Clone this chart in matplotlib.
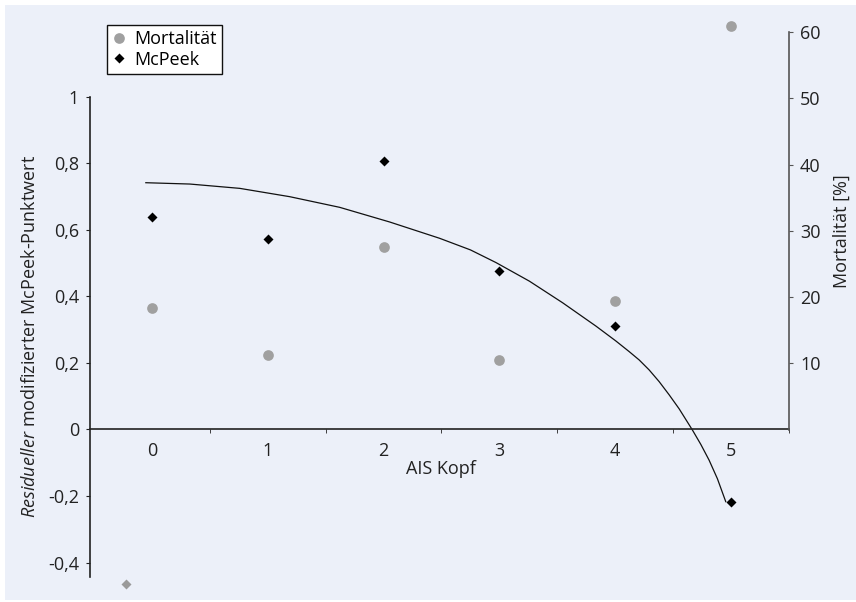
import matplotlib
matplotlib.use('Agg')
import matplotlib.pyplot as plt
from matplotlib.patches import Rectangle
from matplotlib.lines import Line2D

plt.rcParams['font.family'] = ['Open Sans', 'DejaVu Sans']
plt.rcParams['mathtext.fontset'] = 'custom'
plt.rcParams['mathtext.rm'] = 'Open Sans'
plt.rcParams['mathtext.it'] = 'Open Sans:italic'

# data
ais = [0, 1, 2, 3, 4, 5]
ais_labels = ['0', '1', '2', '3', '4', '5']
mcpeek = [0.64, 0.572, 0.807, 0.477, 0.312, -0.218]
mortality = [18.4, 11.2, 27.6, 10.5, 19.4, 61.0]

# stray grey marker bottom left
extra_x = [-0.224]
extra_y = [-0.465]

# trend curve
curve_x = [-0.052, 0.328, 0.759, 1.19, 1.621, 2.052, 2.483, 2.75, 2.97,
           3.259, 3.546, 3.833, 4.006, 4.121, 4.207, 4.293, 4.379, 4.466,
           4.552, 4.667, 4.739, 4.81, 4.882, 4.954]
curve_y = [0.742, 0.738, 0.725, 0.700, 0.668, 0.624, 0.575, 0.540, 0.502,
           0.446, 0.381, 0.311, 0.266, 0.234, 0.209, 0.179, 0.144, 0.104,
           0.062, -0.002, -0.045, -0.092, -0.148, -0.217]

left_ticks = [-0.4, -0.2, 0, 0.2, 0.4, 0.6, 0.8, 1]
left_labels = ['-0,4', '-0,2', '0', '0,2', '0,4', '0,6', '0,8', '1']
right_ticks = [10, 20, 30, 40, 50, 60]

FS = 13
W, H = 856, 602
fig = plt.figure(figsize=(W / 100, H / 100), dpi=100)
fig.patch.set_facecolor('white')
fig.patches.append(Rectangle((5 / W, 2 / H), 851 / W, 595 / H,
                             transform=fig.transFigure, facecolor='#ecf0f9',
                             edgecolor='none', zorder=-1))

ax = fig.add_axes([90 / W, 12 / H, 699 / W, 565 / H])
ax.patch.set_visible(False)
ax.set_xlim(-0.534, 5.491)
ax.set_ylim(-0.4826, 1.2162)

ax2 = ax.twinx()
ax2.patch.set_visible(False)
ax2.set_ylim(-24.24, 61.1)

# spines
for s in ['top', 'right']:
    ax.spines[s].set_visible(False)
for s in ['top', 'bottom', 'left']:
    ax2.spines[s].set_visible(False)
ax.spines['bottom'].set_position(('data', 0))
ax.spines['bottom'].set_color('#222222')
ax.spines['left'].set_color('#222222')
ax.spines['left'].set_bounds(-0.445, 1)
ax2.spines['right'].set_bounds(0, 60)
ax2.spines['right'].set_color('#555555')
for sp in [ax.spines['bottom'], ax.spines['left'], ax2.spines['right']]:
    sp.set_linewidth(1.2)

# ticks
ax.set_xticks(ais)
ax.set_xticklabels(ais_labels)
ax.set_xticks([0.5, 1.5, 2.5, 3.5, 4.5, 5.5], minor=True)
ax.tick_params(axis='x', which='major', length=0, pad=9, labelsize=FS,
               colors='#222222')
ax.tick_params(axis='x', which='minor', length=3, direction='out',
               color='#222222')
ax.set_yticks(left_ticks)
ax.set_yticklabels(left_labels)
ax.tick_params(axis='y', length=3, pad=5, labelsize=FS, colors='#222222')
ax2.set_yticks(right_ticks)
ax2.tick_params(axis='y', length=3, pad=5, labelsize=FS, colors='#222222')
ax2.tick_params(axis='y', color='#555555')

# data
ax.plot(curve_x, curve_y, color='#111111', lw=0.9, zorder=2)
ax2.plot(ais, mortality, 'o', color='#a0a0a0', ms=7.7, mec='none',
         clip_on=False, zorder=3)
ax.plot(ais, mcpeek, 'D', color='black', ms=5.5, mec='none',
        clip_on=False, zorder=4)
ax.plot(extra_x, extra_y, 'D', color='#9a9a9a', ms=5.5, mec='none',
        clip_on=False, zorder=4)

# labels
fig.text(30 / W, 1 - 336 / H,
         r'$\it{Residueller}$' + ' modifizierter McPeek-Punktwert',
         rotation=90, ha='center', va='center', fontsize=FS,
         color='#222222')
fig.text(842 / W, 1 - 231 / H, 'Mortalität [%]', rotation=90,
         ha='center', va='center', fontsize=FS, color='#222222')
fig.text(441 / W, 1 - 469 / H, 'AIS Kopf', ha='center', va='center',
         fontsize=FS, color='#222222')

# legend
handles = [Line2D([], [], marker='o', ls='none', color='#a0a0a0', ms=7.7,
                  mec='none'),
           Line2D([], [], marker='D', ls='none', color='black', ms=5.5,
                  mec='none')]
leg = ax.legend(handles, ['Mortalität', 'McPeek'], loc='upper left',
                bbox_to_anchor=(107 / W, 1 - 25 / H),
                bbox_transform=fig.transFigure, borderaxespad=0,
                frameon=True, fancybox=False, fontsize=FS,
                handlelength=0.7, handletextpad=0.5, labelspacing=0.12,
                borderpad=0.3)
leg.get_frame().set_edgecolor('#111111')
leg.get_frame().set_linewidth(1.0)
leg.get_frame().set_facecolor('white')
leg.get_frame().set_alpha(1)

fig.savefig('out.png', dpi=100)
